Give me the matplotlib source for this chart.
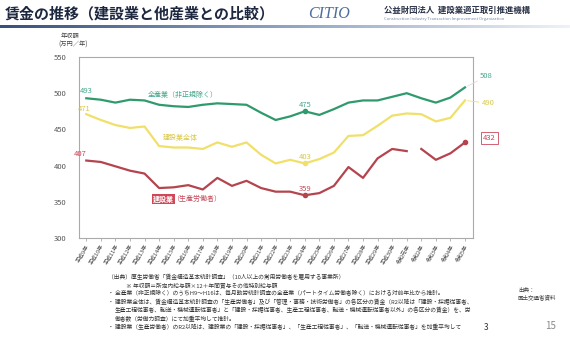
import numpy as np
import matplotlib
matplotlib.use('Agg')
import matplotlib.pyplot as plt
from matplotlib.colors import LinearSegmentedColormap

plt.rcParams['font.family'] = ['Noto Sans CJK JP', 'DejaVu Sans']

# data (万円/年)
years = ['平成9年', '平成10年', '平成11年', '平成12年', '平成13年', '平成14年', '平成15年',
         '平成16年', '平成17年', '平成18年', '平成19年', '平成20年', '平成21年', '平成22年',
         '平成23年', '平成24年', '平成25年', '平成26年', '平成27年', '平成28年', '平成29年',
         '平成30年', '令和元年', '令和2年', '令和3年', '令和4年', '令和5年']
all_industry = [493, 491, 487, 491, 490, 484, 482, 481, 484, 486, 485, 484, 473, 463,
                468, 475, 470, 478, 487, 490, 490, 495, 500, 493, 487, 494, 508]
construction = [471, 463, 456, 452, 454, 427, 425, 425, 423, 432, 426, 432, 415, 403,
                408, 403, 409, 418, 441, 442, 455, 469, 472, 471, 461, 466, 490]
production = [407, 405, 399, 393, 389, 369, 370, 373, 367, 383, 372, 379, 369, 364,
              364, 359, 362, 372, 398, 383, 410, 423, 420, 423, 408, 417, 432]
gap_after = 22      # 令和元年 -> 令和2年 (統計区分の変更で線を切る)
mark_idx = 15       # 平成24年

W, H = 570, 341
fx = lambda px: px / W
fy = lambda py: 1 - py / H

green, green_t = '#2f9a6c', '#45a88c'
yellow, yellow_t = '#f0e06a', '#d9c84a'
red, red_t = '#b4444e', '#c64a5a'

fig = plt.figure(figsize=(5.7, 3.41), dpi=100)

# header
fig.text(fx(5), fy(14), '賃金の推移（建設業と他産業との比較）', fontsize=10.8,
         fontweight='bold', color='#1d2840', va='center', ha='left')
fig.text(fx(308), fy(14), 'CITIO', fontsize=11.5, family='Liberation Serif',
         style='italic', color='#4d6d9c', va='center', ha='left')
fig.text(fx(384), fy(10), '公益財団法人  建設業適正取引推進機構', fontsize=6,
         fontweight='bold', color='#2a3348', va='center', ha='left')
fig.text(fx(384), fy(19), 'Construction Industry Transaction Improvement Organization',
         fontsize=3, color='#7a8aa8', va='center', ha='left')
bar = fig.add_axes([0, fy(28), 1, 3 / H])
cmap = LinearSegmentedColormap.from_list('hdr', ['#35527c', '#8ea4c2', '#eef2f7'])
bar.imshow(np.linspace(0, 1, 256)[None, :], aspect='auto', cmap=cmap)
bar.axis('off')

# chart
ax = fig.add_axes([fx(79), fy(238), (473 - 79) / W, (238 - 57) / H])
x = np.arange(len(years))
ax.plot(x, all_industry, color=green, lw=1.6)
ax.plot(x, construction, color=yellow, lw=1.6)
ax.plot(x[:gap_after + 1], production[:gap_after + 1], color=red, lw=1.6)
ax.plot(x[gap_after + 1:], production[gap_after + 1:], color=red, lw=1.6)

for s, c in [(all_industry, green), (construction, yellow), (production, red)]:
    ax.plot(x[mark_idx], s[mark_idx], 'o', color=c, ms=3)
ax.plot(x[-1], production[-1], 'o', color=red, ms=3)

ax.set_xlim(-0.5, 26.55)
ax.set_ylim(300, 550)
ax.set_yticks(range(300, 551, 50))
ax.set_xticks(x)
ax.set_xticklabels(years, rotation=60, ha='right', rotation_mode='anchor',
                   fontsize=4, color='#444')
ax.tick_params(axis='y', length=0, pad=9, labelsize=5.5, labelcolor='#555')
ax.tick_params(axis='x', length=2, width=0.5, color='#999', pad=2)
for sp in ax.spines.values():
    sp.set_color('#aaaaaa')
    sp.set_linewidth(0.8)

# value labels
ax.annotate(str(all_industry[0]), (x[0], all_industry[0]), xytext=(-5, 4),
            textcoords='offset points', fontsize=5.5, color=green_t)
ax.annotate(str(construction[0]), (x[0], construction[0]), xytext=(-6, 2),
            textcoords='offset points', fontsize=5.5, color=yellow_t)
ax.annotate(str(production[0]), (x[0], production[0]), xytext=(-9, 3),
            textcoords='offset points', fontsize=5.5, color=red_t)
for s, c in [(all_industry, green_t), (construction, yellow_t), (production, red_t)]:
    ax.annotate(str(s[mark_idx]), (x[mark_idx], s[mark_idx]), xytext=(0, 3),
                textcoords='offset points', fontsize=5.5, color=c, ha='center')
ax.annotate(str(all_industry[-1]), (x[-1], all_industry[-1]), xytext=(11, 8),
            textcoords='offset points', fontsize=5.5, color=green_t, va='center',
            annotation_clip=False,
            arrowprops=dict(arrowstyle='-', color='#dddddd', lw=0.6, shrinkA=0, shrinkB=2))
ax.annotate(str(construction[-1]), (x[-1], construction[-1]), xytext=(12, -2),
            textcoords='offset points', fontsize=5.5, color=yellow_t, va='center',
            annotation_clip=False,
            arrowprops=dict(arrowstyle='-', color=yellow, lw=0.6, shrinkA=0, shrinkB=2))
ax.annotate(str(production[-1]), (x[-1], production[-1]), xytext=(13, 3),
            textcoords='offset points', fontsize=5.5, color=red_t, va='center',
            annotation_clip=False,
            bbox=dict(boxstyle='square,pad=0.25', fc='white', ec=red_t, lw=0.6))

# series names
ax.text(6.65, 497.5, '全産業（非正規除く）', fontsize=5, color=green_t, ha='center', va='center')
ax.text(6.45, 438, '建設業全体', fontsize=5, color=yellow_t, ha='center', va='center')
fig.text(fx(153), fy(199), '建設業', fontsize=5, fontweight='bold', color='white',
         ha='left', va='center',
         bbox=dict(boxstyle='square,pad=0.15', fc='#d04858', ec='none'))
fig.text(fx(172), fy(199), '（生産労働者）', fontsize=5, color=red_t, ha='left', va='center')

fig.text(fx(70), fy(36), '年収額', fontsize=4.5, color='#444', ha='center', va='center')
fig.text(fx(73), fy(45), '(万円／年)', fontsize=4.5, color='#444', ha='center', va='center')

# footnotes
notes = [
    (108, 277, '（出典）厚生労働省「賃金構造基本統計調査」（10人以上の常用労働者を雇用する事業所）'),
    (126, 285, '※ 年収額＝所定内給与額×12＋年間賞与その他特別給与額'),
    (108, 293, '・ 全産業（非正規除く）のうちH9～H16は、毎月勤労統計調査の全産業（パートタイム労働者除く）における対前年比から推計。'),
    (108, 301.5, '・ 建設業全体は、賃金構造基本統計調査の「生産労働者」及び「管理・事務・技術労働者」の各区分の賃金（R2以降は「建設・採掘従事者、'),
    (115, 310, '生産工程従事者、輸送・機械運転従事者」と「建設・採掘従事者、生産工程従事者、輸送・機械運転従事者以外」の各区分の賃金）を、労'),
    (115, 318, '働者数（労働力調査）にて加重平均して推計。'),
    (108, 327, '・ 建設業（生産労働者）のR2以降は、建設業の「建設・採掘従事者」、「生産工程従事者」、「輸送・機械運転従事者」を加重平均して'),
]
for px, py, t in notes:
    fig.text(fx(px), fy(py), t, fontsize=4.15, color='#333', ha='left', va='center')

fig.text(fx(518), fy(290), '出典：', fontsize=4, color='#444', ha='left', va='center')
fig.text(fx(518), fy(297), '国土交通省資料', fontsize=4, color='#444', ha='left', va='center')
fig.text(fx(486), fy(328), '3', fontsize=6, color='#333', ha='center', va='center')
fig.text(fx(551), fy(326), '15', fontsize=7, color='#888', ha='center', va='center')

fig.savefig('out.png', dpi=100)
